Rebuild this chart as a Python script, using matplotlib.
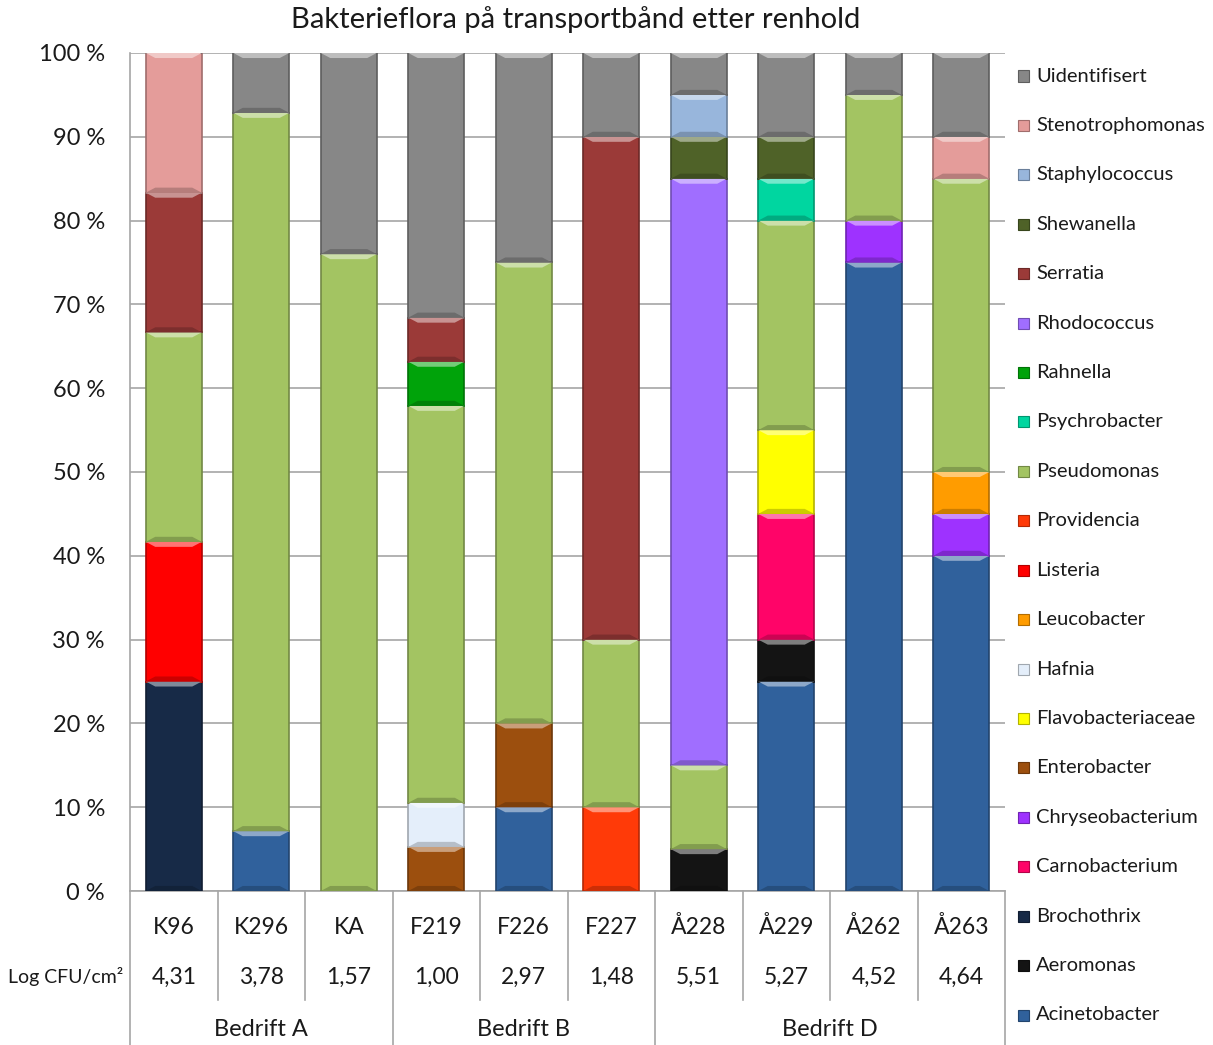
import matplotlib
matplotlib.use("Agg")
import matplotlib.pyplot as plt
import matplotlib.colors as mcolors
from matplotlib.patches import Polygon, Rectangle
from matplotlib.transforms import blended_transform_factory
import numpy as np

plt.rcParams['font.family'] = ['Lato', 'DejaVu Sans']

title = "Bakterieflora på transportbånd etter renhold"
samples = ["K96", "K296", "KA", "F219", "F226", "F227", "Å228", "Å229", "Å262", "Å263"]
log_cfu = ["4,31", "3,78", "1,57", "1,00", "2,97", "1,48", "5,51", "5,27", "4,52", "4,64"]
groups = ["Bedrift A", "Bedrift B", "Bedrift D"]
group_sizes = [3, 3, 4]
ytick_labels = ["0 %", "10 %", "20 %", "30 %", "40 %", "50 %", "60 %", "70 %", "80 %", "90 %", "100 %"]

# Share of each genus per sample (%), stacked bottom-up in this order
acinetobacter     = [0, 100/14, 0, 0, 10, 0, 0, 25, 75, 40]
aeromonas         = [0, 0, 0, 0, 0, 0, 5, 5, 0, 0]
brochothrix       = [25, 0, 0, 0, 0, 0, 0, 0, 0, 0]
carnobacterium    = [0, 0, 0, 0, 0, 0, 0, 15, 0, 0]
chryseobacterium  = [0, 0, 0, 0, 0, 0, 0, 0, 5, 5]
enterobacter      = [0, 0, 0, 100/19, 10, 0, 0, 0, 0, 0]
flavobacteriaceae = [0, 0, 0, 0, 0, 0, 0, 10, 0, 0]
hafnia            = [0, 0, 0, 100/19, 0, 0, 0, 0, 0, 0]
leucobacter       = [0, 0, 0, 0, 0, 0, 0, 0, 0, 5]
listeria          = [100/6, 0, 0, 0, 0, 0, 0, 0, 0, 0]
providencia       = [0, 0, 0, 0, 0, 10, 0, 0, 0, 0]
pseudomonas       = [25, 1200/14, 76, 900/19, 55, 20, 10, 25, 15, 35]
psychrobacter     = [0, 0, 0, 0, 0, 0, 0, 5, 0, 0]
rahnella          = [0, 0, 0, 100/19, 0, 0, 0, 0, 0, 0]
rhodococcus       = [0, 0, 0, 0, 0, 0, 70, 0, 0, 0]
serratia          = [100/6, 0, 0, 100/19, 0, 60, 0, 0, 0, 0]
shewanella        = [0, 0, 0, 0, 0, 0, 5, 5, 0, 0]
staphylococcus    = [0, 0, 0, 0, 0, 0, 5, 0, 0, 0]
stenotrophomonas  = [100/6, 0, 0, 0, 0, 0, 0, 0, 0, 5]
uidentifisert     = [0, 100/14, 24, 600/19, 25, 10, 5, 10, 5, 10]

series = [
    ("Acinetobacter", acinetobacter, "#30619c"),
    ("Aeromonas", aeromonas, "#141414"),
    ("Brochothrix", brochothrix, "#172a47"),
    ("Carnobacterium", carnobacterium, "#ff0468"),
    ("Chryseobacterium", chryseobacterium, "#9e32ff"),
    ("Enterobacter", enterobacter, "#9c4f0e"),
    ("Flavobacteriaceae", flavobacteriaceae, "#ffff00"),
    ("Hafnia", hafnia, "#e4eefa"),
    ("Leucobacter", leucobacter, "#ff9c00"),
    ("Listeria", listeria, "#ff0000"),
    ("Providencia", providencia, "#ff3a08"),
    ("Pseudomonas", pseudomonas, "#a3c462"),
    ("Psychrobacter", psychrobacter, "#00d6a0"),
    ("Rahnella", rahnella, "#00a30a"),
    ("Rhodococcus", rhodococcus, "#a06eff"),
    ("Serratia", serratia, "#9b3a38"),
    ("Shewanella", shewanella, "#4f6228"),
    ("Staphylococcus", staphylococcus, "#98b6dc"),
    ("Stenotrophomonas", stenotrophomonas, "#e49c9a"),
    ("Uidentifisert", uidentifisert, "#878787"),
]

TXT = "#1a1a1a"


def shade(color, f):
    r, g, b = mcolors.to_rgb(color)
    if f >= 0:
        return (r + (1 - r) * f, g + (1 - g) * f, b + (1 - b) * f)
    return (r * (1 + f), g * (1 + f), b * (1 + f))


W, H = 1213, 1045
fig = plt.figure(figsize=(W / 100, H / 100), dpi=100)
ax = fig.add_axes([130 / W, 1 - 891 / H, (1005 - 130) / W, (891 - 53) / H])

x = np.arange(len(samples))
bar_w = 0.64
bottom = np.zeros(len(samples))
for name, vals, col in series:
    vals = np.asarray(vals, dtype=float)
    bars = ax.bar(x, vals, bar_w, bottom=bottom, color=col,
                  edgecolor=shade(col, -0.3), linewidth=1.2, zorder=3)
    for rect, v in zip(bars, vals):
        if v <= 0:
            continue
        x0, y0 = rect.get_x(), rect.get_y()
        w, h = rect.get_width(), rect.get_height()
        inset = w * 0.17
        bh = min(0.6, h * 0.2)
        # bevel highlight along the top edge of the segment
        ax.add_patch(Polygon([(x0, y0 + h), (x0 + w, y0 + h),
                              (x0 + w - inset, y0 + h - bh), (x0 + inset, y0 + h - bh)],
                             closed=True, facecolor=shade(col, 0.45), edgecolor="none", zorder=4))
        # darker band along the bottom edge
        ax.add_patch(Polygon([(x0, y0), (x0 + w, y0),
                              (x0 + w - inset, y0 + bh), (x0 + inset, y0 + bh)],
                             closed=True, facecolor=shade(col, -0.2), edgecolor="none", zorder=4))
    bottom += vals

ax.set_xlim(-0.5, len(samples) - 0.5)
ax.set_ylim(0, 100)
ax.set_yticks(np.arange(0, 101, 10))
ax.set_yticklabels(ytick_labels, fontsize=17, color=TXT)
ax.tick_params(axis="y", length=0, pad=18)
ax.set_xticks([])
ax.grid(axis="y", color="#a6a6a6", linewidth=1.2, zorder=0)
for s in ["top", "right"]:
    ax.spines[s].set_visible(False)
for s in ["left", "bottom"]:
    ax.spines[s].set_color("#a6a6a6")
    ax.spines[s].set_linewidth(1.2)

fig.text(576 / W, 1 - 20 / H, title, ha="center", va="center", fontsize=21, color=TXT)

# category table below the axis
tr = blended_transform_factory(ax.transData, ax.transAxes)
ypix = lambda p: (891 - p) / 838.0
line_kw = dict(color="#a6a6a6", linewidth=1.2, transform=tr, clip_on=False)
for i, (s, v) in enumerate(zip(samples, log_cfu)):
    ax.text(i, ypix(927), s, ha="center", va="center", fontsize=16.5, color=TXT, transform=tr)
    ax.text(i, ypix(977), v, ha="center", va="center", fontsize=16.5, color=TXT, transform=tr)

edges = np.cumsum([0] + group_sizes) - 0.5
start = 0
for g, n in zip(groups, group_sizes):
    centre = start + (n - 1) / 2
    ax.text(centre, ypix(1030), g, ha="center", va="center", fontsize=17, color=TXT, transform=tr)
    for k in range(1, n):
        xb = start + k - 0.5
        ax.plot([xb, xb], [0, ypix(1000)], **line_kw)
    start += n
for xb in edges:
    ax.plot([xb, xb], [0, ypix(1045)], **line_kw)

fig.text(123 / W, 1 - 977 / H, "Log CFU/cm²", ha="right", va="center", fontsize=14, color=TXT)

# legend, listed from the top of the stack down
n_ser = len(series)
for j, (name, vals, col) in enumerate(reversed(series)):
    yc = 76 + j * (1015 - 76) / (n_ser - 1)
    sq = 11
    fig.add_artist(Rectangle(((1023 - sq / 2) / W, 1 - (yc + sq / 2) / H), sq / W, sq / H,
                             facecolor=col, edgecolor=shade(col, -0.3), linewidth=0.8,
                             transform=fig.transFigure))
    fig.text(1036 / W, 1 - yc / H, name, ha="left", va="center", fontsize=14.5, color=TXT)

fig.savefig("out.png", dpi=100, facecolor="white")
